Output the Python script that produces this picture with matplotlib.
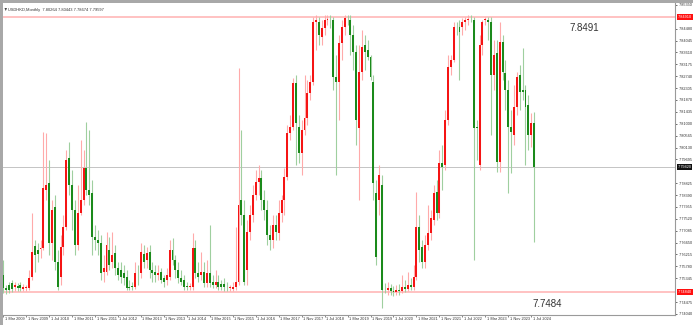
import matplotlib
matplotlib.use("Agg")
import matplotlib.pyplot as plt
from matplotlib.patches import Rectangle, Polygon

# ---------------- data (USDHKD monthly, Mar 2009 .. Aug 2024) ----------------
opens = [
7.7546,7.7499,7.7510,7.7517,7.7503,7.7506,7.7510,7.7495,7.7499,7.7499,
7.7539,7.7653,7.7638,7.7642,7.7645,7.7858,7.7883,7.7664,7.7795,7.7594,
7.7539,7.7649,7.7722,7.7975,7.7876,7.7784,7.7656,7.7773,7.7821,7.7938,
7.7858,7.7847,7.7686,7.7675,7.7664,7.7557,7.7557,7.7638,7.7594,7.7627,
7.7572,7.7565,7.7554,7.7539,7.7503,7.7503,7.7503,7.7554,7.7554,7.7623,
7.7601,7.7631,7.7565,7.7557,7.7546,7.7557,7.7536,7.7528,7.7539,7.7638,
7.7601,7.7565,7.7536,7.7528,7.7503,7.7502,7.7503,7.7645,7.7554,7.7546,
7.7557,7.7517,7.7554,7.7521,7.7510,7.7521,7.7514,7.7514,7.7499,7.7499,
7.7495,7.7503,7.7521,7.7821,7.7766,7.7565,7.7704,7.7766,7.7839,7.7887,
7.7902,7.7821,7.7784,7.7693,7.7675,7.7730,7.7700,7.7773,7.7821,7.7905,
7.8066,7.8088,7.8249,7.8088,7.7993,7.8077,7.8121,7.8213,7.8253,7.8472,
7.8472,7.8418,7.8451,7.8480,7.8480,7.8480,7.8271,7.8253,7.8396,7.8454,
7.8487,7.8480,7.8425,7.8363,7.8085,7.8289,7.8388,7.8370,7.8344,7.8253,
7.7847,7.7821,7.7876,7.7499,7.7492,7.7499,7.7488,7.7484,7.7492,7.7488,
7.7503,7.7495,7.7510,7.7503,7.7539,7.7722,7.7649,7.7594,7.7656,7.7700,
7.7748,7.7850,7.7773,7.7956,7.7949,7.8114,7.8308,7.8333,7.8454,7.8454,
7.8454,7.8472,7.8480,7.8480,7.8480,7.8085,7.7949,7.8388,7.8480,7.8480,
7.8472,7.8279,7.8359,7.7960,7.8399,7.8286,7.8224,7.8088,7.8059,7.8161,
7.8279,7.8224,7.8224,7.8169,7.8059,7.8103]
highs = [
7.7601,7.7510,7.7521,7.7528,7.7521,7.7517,7.7521,7.7514,7.7510,7.7565,
7.7773,7.7675,7.7664,7.7675,7.8070,7.8066,7.7967,7.7821,7.7839,7.7638,
7.7693,7.7766,7.8004,7.8033,7.7931,7.7821,7.7876,7.8041,7.8004,7.8106,
7.8077,7.7894,7.7730,7.7711,7.7693,7.7620,7.7704,7.7686,7.7704,7.7656,
7.7594,7.7594,7.7583,7.7565,7.7528,7.7521,7.7594,7.7583,7.7664,7.7656,
7.7649,7.7656,7.7594,7.7583,7.7583,7.7572,7.7546,7.7572,7.7675,7.7682,
7.7620,7.7594,7.7565,7.7546,7.7521,7.7517,7.7700,7.7675,7.7594,7.7631,
7.7594,7.7601,7.7730,7.7546,7.7565,7.7546,7.7528,7.7536,7.7521,7.7510,
7.7521,7.7722,7.8304,7.8077,7.7821,7.7748,7.7803,7.7876,7.7931,7.7949,
7.7931,7.7858,7.7821,7.7730,7.7766,7.7766,7.7821,7.7839,7.7938,7.8096,
7.8132,7.8268,7.8279,7.8132,7.8114,7.8279,7.8260,7.8279,7.8491,7.8498,
7.8491,7.8480,7.8498,7.8498,7.8498,7.8491,7.8352,7.8425,7.8480,7.8498,
7.8498,7.8498,7.8462,7.8388,7.8388,7.8443,7.8425,7.8407,7.8352,7.8279,
7.7894,7.7949,7.7913,7.7517,7.7521,7.7514,7.7506,7.7510,7.7514,7.7546,
7.7528,7.7557,7.7536,7.7583,7.7850,7.7766,7.7675,7.7693,7.7803,7.7784,
7.7876,7.7894,7.8004,7.8022,7.8150,7.8352,7.8352,7.8472,7.8472,7.8480,
7.8487,7.8491,7.8498,7.8498,7.8491,7.8114,7.8425,7.8480,7.8491,7.8491,
7.8491,7.8407,7.8407,7.8472,7.8425,7.8333,7.8260,7.8150,7.8242,7.8289,
7.8315,7.8377,7.8242,7.8205,7.8139,7.8143]
lows = [
7.7481,7.7477,7.7481,7.7484,7.7488,7.7488,7.7488,7.7488,7.7488,7.7492,
7.7528,7.7557,7.7594,7.7609,7.7638,7.7821,7.7620,7.7601,7.7565,7.7492,
7.7510,7.7620,7.7711,7.7839,7.7711,7.7620,7.7638,7.7766,7.7803,7.7839,
7.7803,7.7620,7.7638,7.7620,7.7528,7.7521,7.7546,7.7565,7.7572,7.7546,
7.7528,7.7517,7.7510,7.7492,7.7492,7.7492,7.7495,7.7510,7.7536,7.7572,
7.7572,7.7536,7.7521,7.7521,7.7528,7.7517,7.7503,7.7510,7.7528,7.7583,
7.7536,7.7517,7.7510,7.7492,7.7492,7.7492,7.7492,7.7536,7.7521,7.7528,
7.7503,7.7503,7.7503,7.7499,7.7499,7.7492,7.7492,7.7488,7.7488,7.7488,
7.7488,7.7492,7.7510,7.7730,7.7510,7.7510,7.7675,7.7740,7.7821,7.7839,
7.7784,7.7748,7.7656,7.7638,7.7645,7.7675,7.7675,7.7740,7.7766,7.7894,
7.8041,7.8077,7.7949,7.7956,7.7913,7.8059,7.8096,7.8187,7.8242,7.8370,
7.8388,7.8388,7.8425,7.8462,7.8451,7.8224,7.7913,7.8114,7.8333,7.8425,
7.8462,7.8352,7.8297,7.8022,7.7821,7.8260,7.8297,7.8333,7.8260,7.7821,
7.7583,7.7766,7.7426,7.7481,7.7473,7.7473,7.7470,7.7473,7.7473,7.7481,
7.7484,7.7488,7.7492,7.7492,7.7528,7.7594,7.7572,7.7572,7.7638,7.7675,
7.7730,7.7748,7.7755,7.7858,7.7931,7.8096,7.8279,7.8326,7.8425,7.8260,
7.8425,7.8443,7.8462,7.8472,7.7601,7.7967,7.7931,7.8352,7.8462,7.8407,
7.8059,7.8224,7.7923,7.7923,7.8260,7.8150,7.7847,7.7920,7.8022,7.8132,
7.8150,7.8187,7.7949,7.8004,7.8015,7.7667]
closes = [
7.7499,7.7492,7.7492,7.7495,7.7510,7.7499,7.7499,7.7503,7.7500,7.7536,
7.7631,7.7620,7.7623,7.7645,7.7865,7.7876,7.7664,7.7784,7.7594,7.7503,
7.7649,7.7722,7.7967,7.7876,7.7784,7.7656,7.7773,7.7821,7.7938,7.7858,
7.7839,7.7686,7.7675,7.7664,7.7554,7.7572,7.7656,7.7583,7.7620,7.7572,
7.7546,7.7539,7.7536,7.7499,7.7499,7.7502,7.7554,7.7553,7.7631,7.7594,
7.7627,7.7565,7.7554,7.7546,7.7554,7.7528,7.7521,7.7546,7.7638,7.7601,
7.7565,7.7536,7.7521,7.7503,7.7502,7.7503,7.7645,7.7554,7.7539,7.7557,
7.7517,7.7554,7.7517,7.7510,7.7521,7.7503,7.7503,7.7503,7.7498,7.7500,
7.7503,7.7521,7.7803,7.7766,7.7521,7.7704,7.7766,7.7839,7.7887,7.7902,
7.7821,7.7784,7.7693,7.7675,7.7730,7.7704,7.7773,7.7821,7.7905,7.8066,
7.8088,7.8249,7.8103,7.7993,7.8077,7.8121,7.8213,7.8253,7.8472,7.8480,
7.8425,7.8451,7.8480,7.8481,7.8479,7.8271,7.8253,7.8396,7.8454,7.8487,
7.8486,7.8425,7.8363,7.8114,7.8289,7.8381,7.8363,7.8344,7.8271,7.7883,
7.7612,7.7913,7.7492,7.7498,7.7499,7.7488,7.7484,7.7492,7.7488,7.7503,
7.7495,7.7510,7.7503,7.7539,7.7722,7.7638,7.7594,7.7656,7.7700,7.7755,
7.7847,7.7773,7.7956,7.7942,7.8114,7.8308,7.8333,7.8454,7.8453,7.8436,
7.8472,7.8480,7.8481,7.8479,7.8085,7.8084,7.8388,7.8472,7.8481,7.8472,
7.8279,7.8352,7.7960,7.8399,7.8289,7.8224,7.8088,7.8070,7.8161,7.8271,
7.8216,7.8216,7.8161,7.8059,7.8103,7.7942]

date_labels = ["1 Mar 2009","1 Nov 2009","1 Jul 2010","1 Mar 2011","1 Nov 2011",
               "1 Jul 2012","1 Mar 2013","1 Nov 2013","1 Jul 2014","1 Mar 2015",
               "1 Nov 2015","1 Jul 2016","1 Mar 2017","1 Nov 2017","1 Jul 2018",
               "1 Mar 2019","1 Nov 2019","1 Jul 2020","1 Mar 2021","1 Nov 2021",
               "1 Jul 2022","1 Mar 2023","1 Nov 2023","1 Jul 2024"]
label_step = 8  # months between date labels

# price-axis tick labels (those hidden under the level boxes are left out)
price_ticks = [7.85350,7.84480,7.84045,7.83610,7.83175,7.82740,7.82305,
               7.81870,7.81435,7.81000,7.80565,7.80130,7.79695,7.78825,
               7.78390,7.77955,7.77520,7.77085,7.76650,7.76215,7.75780,7.75345,
               7.74475,7.74040]

level_high = 7.8491
level_low = 7.7484
title_text = "USDHKD,Monthly  7.80264 7.80443 7.78674 7.79597"

# ---------------- figure ----------------
W, H = 693, 325
fig = plt.figure(figsize=(W / 100, H / 100), dpi=100)
fig.patch.set_facecolor("white")
ax = fig.add_axes([3 / W, 10 / H, 672 / W, 312 / H])
ax.set_facecolor("white")

n = len(closes)
xs = list(range(n))
ax.set_xlim(-0.07, 234.1)
ax.set_ylim(7.7400, 7.8542)

RED, GREEN = "#f51414", "#1b8a1b"
RED_W, GREEN_W = "#ffaaaa", "#9fcf9f"

for i in xs:
    o, h, l, c = opens[i], highs[i], lows[i], closes[i]
    up = c >= o
    ax.vlines(i, l, h, color=RED_W if up else GREEN_W, lw=0.8, zorder=2)
    bot = min(o, c)
    hgt = max(abs(c - o), 0.00025)
    ax.add_patch(Rectangle((i - 0.34, bot), 0.68, hgt,
                           facecolor=RED if up else GREEN, edgecolor="none", zorder=3))

# horizontal levels
for lv in (level_high, level_low):
    ax.axhline(lv, color="#ffbdbd", lw=1.3, zorder=1)
ax.axhline(closes[-1], color="#c4c4c4", lw=0.7, zorder=1)

ax.annotate(f"{level_high:.4f}", xy=(0.8646, level_high), xycoords=("axes fraction", "data"),
            xytext=(0, -6), textcoords="offset pixels", ha="center", va="top",
            fontsize=7, family="Liberation Sans", color="#333333")
ax.annotate(f"{level_low:.4f}", xy=(0.8095, level_low), xycoords=("axes fraction", "data"),
            xytext=(0, -7), textcoords="offset pixels", ha="center", va="top",
            fontsize=7, family="Liberation Sans", color="#333333")

# spines
for s in ("top", "left"):
    ax.spines[s].set_visible(False)
for s in ("right", "bottom"):
    ax.spines[s].set_color("#9a9a9a")
    ax.spines[s].set_linewidth(0.8)

# y axis on right
ax.yaxis.tick_right()
ax.set_yticks(price_ticks)
ax.set_yticklabels([f"{t:.5f}" for t in price_ticks])
ax.tick_params(axis="y", length=1.5, width=0.5, pad=1.5, labelsize=2.8,
               colors="#333333")
for lab in ax.get_yticklabels():
    lab.set_family("Liberation Sans")

# level boxes on price axis
def axis_box(val, fc, tc):
    ax.annotate(f"{val:.5f}", xy=(1.0, val), xycoords=("axes fraction", "data"),
                xytext=(2.5, 0), textcoords="offset pixels", ha="left", va="center",
                fontsize=2.8, family="Liberation Sans", color=tc, zorder=10,
                bbox=dict(boxstyle="square,pad=0.25", fc=fc, ec="none"),
                annotation_clip=False)

axis_box(level_high, "#ff1010", "white")
axis_box(level_low, "#ff1010", "white")
axis_box(closes[-1], "#111111", "white")

# x axis date labels
tick_pos = [k * label_step for k in range(len(date_labels))]
ax.set_xticks(tick_pos)
ax.set_xticklabels([])
ax.tick_params(axis="x", length=1.5, width=0.5, colors="#555555")
for p, lab in zip(tick_pos, date_labels):
    ax.annotate(lab, xy=(p, 0), xycoords=("data", "axes fraction"),
                xytext=(1.5, -2), textcoords="offset pixels", ha="left", va="top",
                fontsize=2.8, family="Liberation Sans", color="#333333",
                annotation_clip=False)

# window frame and title
fig.add_artist(Rectangle((0, 0), 3 / W, 1, transform=fig.transFigure,
                         facecolor="#a8a8a8", edgecolor="none"))
fig.add_artist(Rectangle((0, 1 - 3 / H), 1, 3 / H, transform=fig.transFigure,
                         facecolor="#a8a8a8", edgecolor="none"))
fig.text(8 / W, 1 - 9.5 / H, title_text, fontsize=2.9, family="Liberation Sans",
         color="#333333", ha="left", va="center")
fig.add_artist(Polygon([[4.5 / W, 1 - 8 / H], [7 / W, 1 - 8 / H], [5.75 / W, 1 - 11 / H]],
                       closed=True, transform=fig.transFigure, facecolor="#444444",
                       edgecolor="none"))

fig.savefig("out.png", dpi=100)
